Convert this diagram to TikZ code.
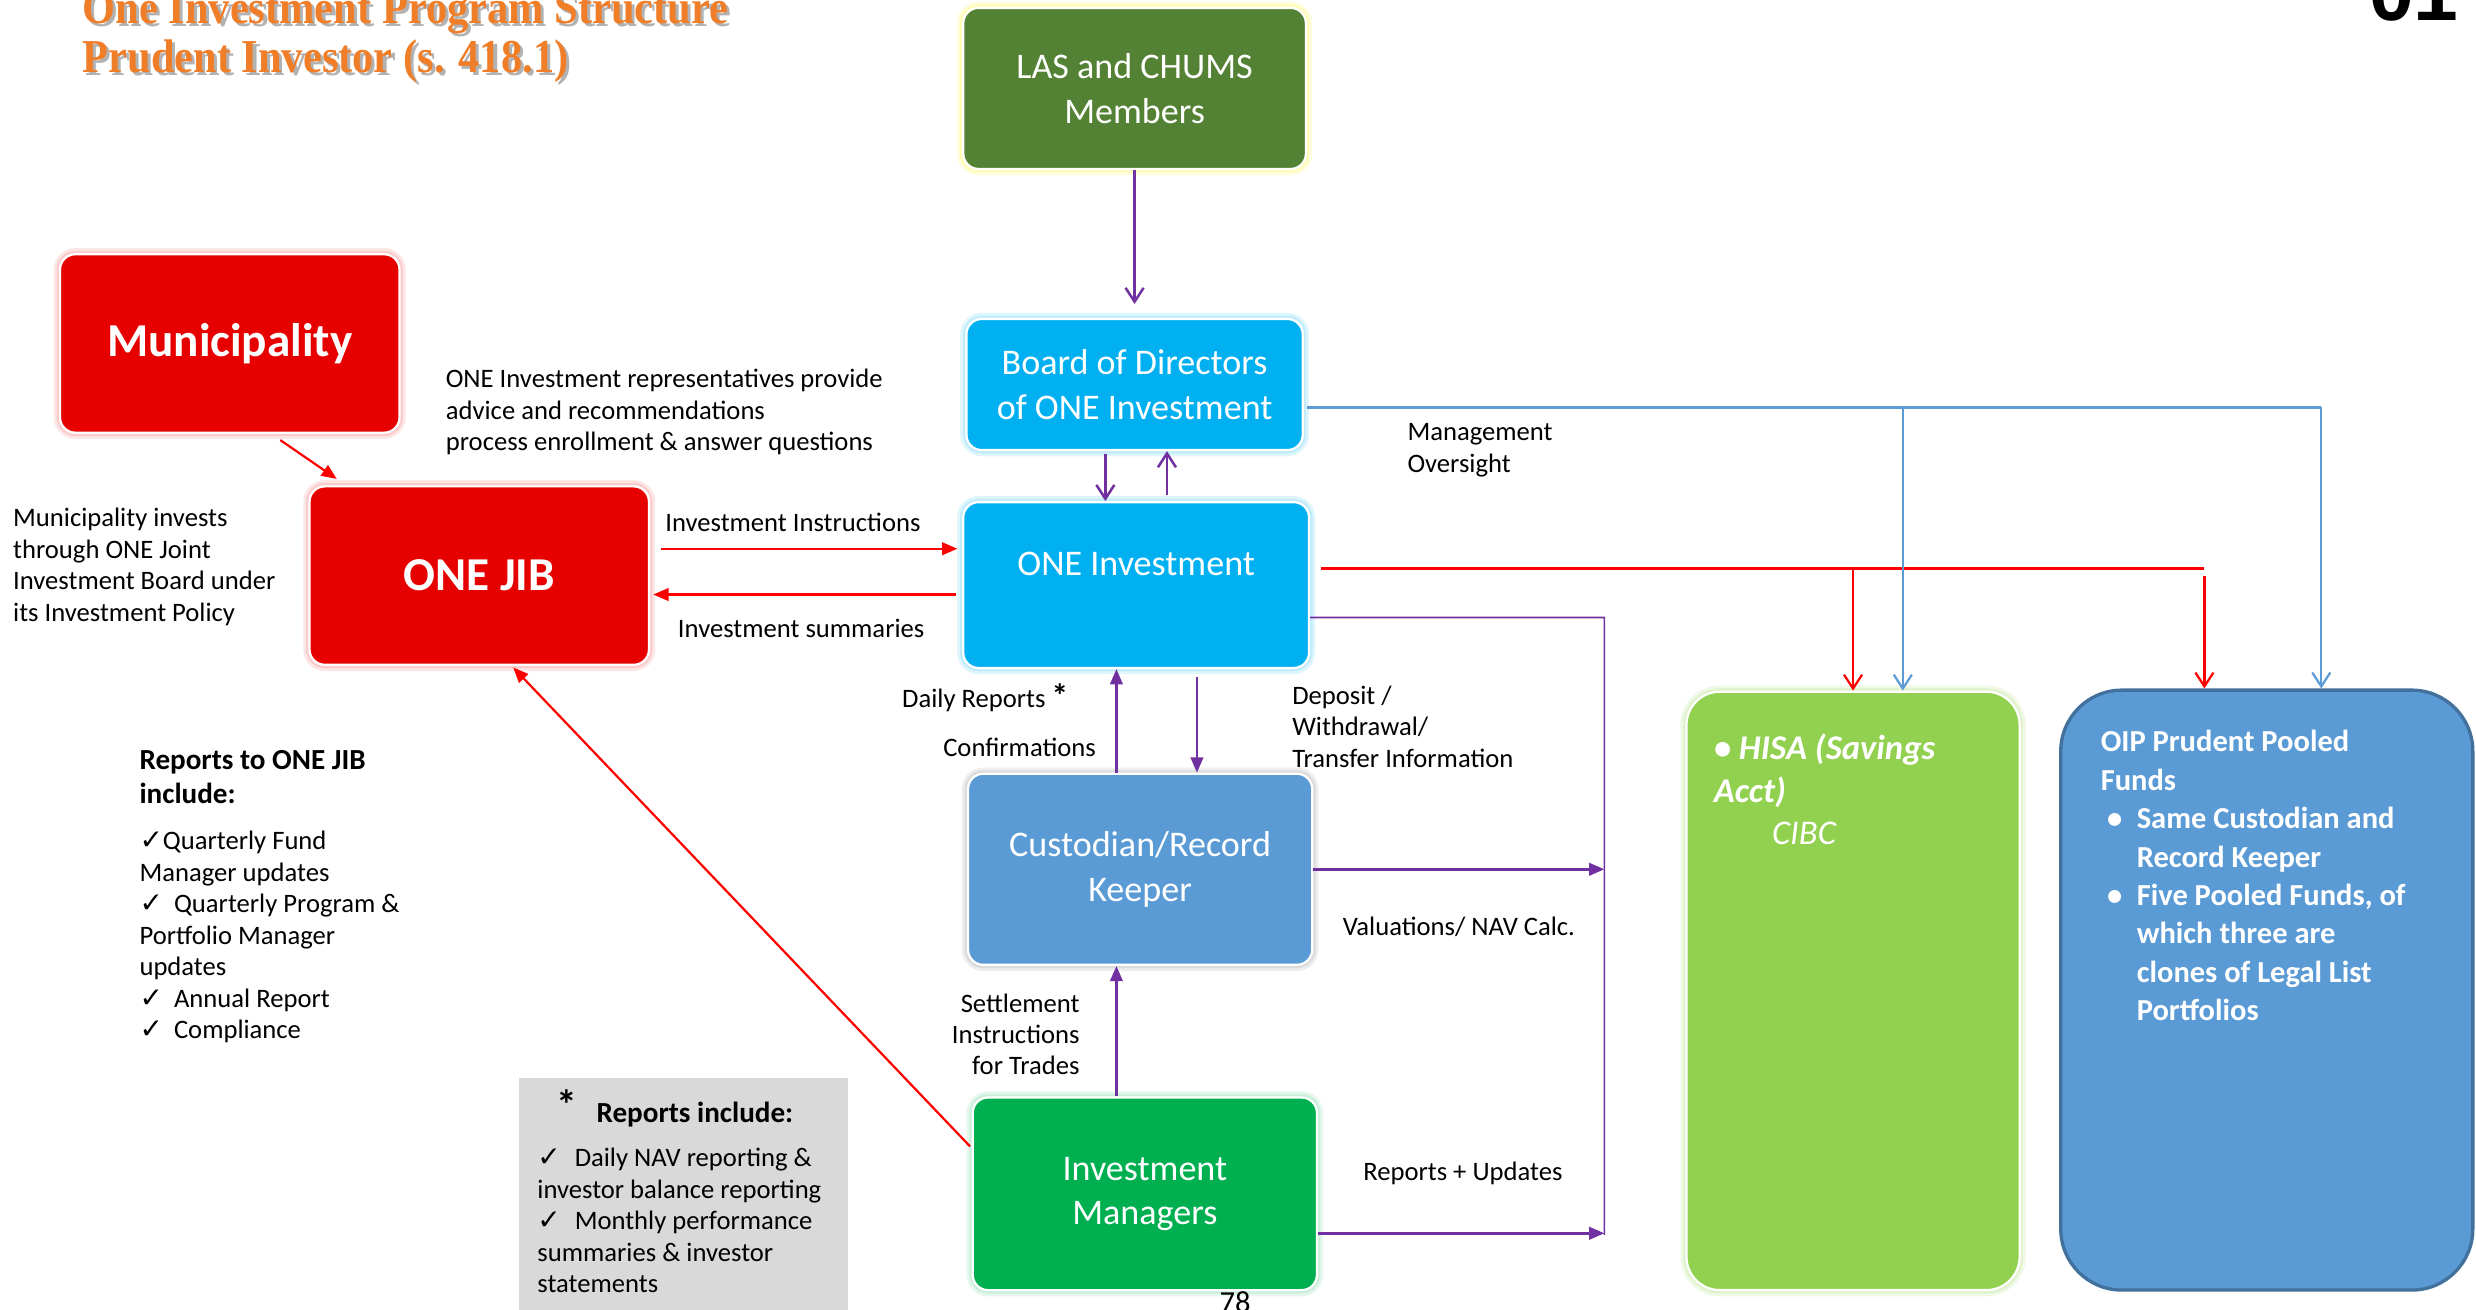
\documentclass[tikz,border=0pt]{standalone}
\usepackage{fontspec}
\usepackage{graphicx}
\setmainfont{Carlito}
\newfontfamily\ttlfont{Liberation Serif}
\newfontfamily\numfont{Liberation Sans}
\newfontfamily\chkfont{DejaVu Sans}
\usetikzlibrary{arrows.meta,calc}

\definecolor{lasgreen}{HTML}{548235}
\definecolor{onecyan}{HTML}{00B0F0}
\definecolor{custblue}{HTML}{5B9BD5}
\definecolor{mgrgreen}{HTML}{00B050}
\definecolor{jibred}{HTML}{E60000}
\definecolor{hisagreen}{HTML}{92D050}
\definecolor{oipedge}{HTML}{41719C}
\definecolor{linkpurple}{HTML}{7030A0}
\definecolor{linkred}{HTML}{FF0000}
\definecolor{linkblue}{HTML}{5B9BD5}
\definecolor{notegray}{HTML}{D9D9D9}
\definecolor{titleorange}{HTML}{F07D28}

\newcommand{\chk}{\scalebox{1.05}{\chkfont ✓}}

\tikzset{
  box/.style={rectangle, rounded corners=5.5pt, draw=white, line width=0.8pt, text=white, align=center, inner sep=0pt, font=\fontsize{13}{16}\selectfont},
  bigbox/.style={box, font=\fontsize{17}{20}\selectfont\bfseries},
  boxtxt/.style={text=white, inner sep=0pt, font=\fontsize{13}{16}\selectfont},
  glow/.style={preaction={draw=#1, line width=4.5pt, opacity=0.2}, preaction={draw=#1, line width=2.5pt, opacity=0.25}},
  txt/.style={inner sep=0pt, align=left, font=\fontsize{9.6}{11.34}\selectfont},
  boldtxt/.style={inner sep=0pt, align=left, font=\fontsize{10.5}{12.5}\selectfont\bfseries},
  hisatxt/.style={text=white, inner sep=0pt, align=left, font=\fontsize{12.5}{15.3}\selectfont\bfseries\itshape},
  oiptxt/.style={text=white, inner sep=0pt, align=left, font=\fontsize{11}{13.85}\selectfont\bfseries},
  ttl/.style={inner sep=0pt, text=titleorange, font=\ttlfont\bfseries\fontsize{17}{17}\selectfont},
  tri/.style={-{Triangle[length=5.5pt,width=4.5pt]}},
  vee/.style={-{Straight Barb[length=5pt,width=6.5pt]}},
  purp/.style={draw=linkpurple, line width=0.9pt},
  redl/.style={draw=linkred, line width=0.8pt},
  bluel/.style={draw=linkblue, line width=0.8pt},
}

\begin{document}
\begin{tikzpicture}[x=0.02cm, y=-0.02cm]
\useasboundingbox (0,0) rectangle (1568,829);

% title
\node[ttl, text=black, opacity=0.3, anchor=base west] (title1s) at (54,17) {\scalebox{0.9}[1]{One Investment Program Structure}};
\node[ttl, anchor=base west] (title1) at (52,15) {\scalebox{0.9}[1]{One Investment Program Structure}};
\node[ttl, text=black, opacity=0.3, anchor=base west] (title2s) at (54,48) {\scalebox{0.9}[1]{Prudent Investor (s. 418.1)}};
\node[ttl, anchor=base west] (title2) at (52,46) {\scalebox{0.9}[1]{Prudent Investor (s. 418.1)}};
\node[inner sep=0pt, font=\numfont\bfseries\fontsize{29}{29}\selectfont, anchor=base west] (pageno) at (1500,13) {01};

% boxes
\node[box, fill=lasgreen, glow=yellow!70, minimum width=4.34cm, minimum height=2.04cm] (las) at (718.5,56) {LAS and CHUMS\\Members};
\node[box, fill=onecyan, glow=onecyan!60, minimum width=4.26cm, minimum height=1.66cm] (board) at (718.5,243.5) {Board of Directors\\of ONE Investment};
\node[box, fill=onecyan, glow=onecyan!60, minimum width=4.38cm, minimum height=2.1cm] (oneinv) at (719.5,370.5) {};
\node[boxtxt] (oneinvlbl) at ($(oneinv)+(0,-13.5)$) {ONE Investment};
\node[box, fill=custblue, glow=gray!70, minimum width=4.36cm, minimum height=2.42cm] (cust) at (722,550.5) {Custodian/Record\\Keeper};
\node[box, fill=mgrgreen, glow=mgrgreen!50, minimum width=4.36cm, minimum height=2.44cm] (invmgr) at (725,756) {Investment\\Managers};
\node[bigbox, fill=jibred, glow=jibred!50, minimum width=4.3cm, minimum height=2.26cm] (muni) at (145.5,217.5) {Municipality};
\node[bigbox, fill=jibred, glow=jibred!50, minimum width=4.3cm, minimum height=2.26cm] (jib) at (303.5,364.5) {ONE JIB};
\node[box, rounded corners=12pt, fill=hisagreen, glow=hisagreen!70, minimum width=4.22cm, minimum height=7.58cm] (hisa) at (1173.5,627.5) {};
\node[box, rounded corners=22pt, fill=custblue, draw=oipedge, line width=1.2pt, minimum width=5.22cm, minimum height=7.6cm] (oip) at (1435.5,627) {};

\node[hisatxt, anchor=west] (hisalbl) at (1085,500) {\textbullet\ HISA (Savings\\Acct)\\\hspace*{21pt}{\mdseries CIBC}};
\node[oiptxt, anchor=west] (oiplbl) at (1330,554.5) {OIP Prudent Pooled\\Funds\\
  \hspace*{2.3pt}\makebox[10.7pt][l]{\textbullet}Same Custodian and\\\hspace*{13pt}Record Keeper\\
  \hspace*{2.3pt}\makebox[10.7pt][l]{\textbullet}Five Pooled Funds, of\\\hspace*{13pt}which three are\\
  \hspace*{13pt}clones of Legal List\\\hspace*{13pt}Portfolios};

% members, board and ONE Investment
\draw[purp, vee, shorten >=5pt] (las) -- (board);
\coordinate (bd) at ($(board.south)+(-18.5,2)$);
\coordinate (bu) at ($(oneinv.north)+(19.5,-4)$);
\draw[purp, vee] (bd) -- (bd |- oneinv.north);
\draw[purp, vee] (bu) -- (bu |- board.south);

% municipality side
\draw[redl, tri] ($(muni.south)+(32,4)$) -- ($(jib.north west)+(18,-4)$);
\draw[redl, tri] ($(jib.east)+(7,-17)$) -- ($(oneinv.west)+(-3,-23)$);
\draw[redl, tri] ($(oneinv.west)+(-4,6)$) -- ($(jib.east)+(2,12)$);
\draw[redl, tri] ($(invmgr.west)+(-1,-30)$) -- ($(jib.south)+(21.5,1)$);
\node[txt, anchor=west] (instr) at (421,331) {Investment Instructions};
\node[txt, anchor=west] (summ) at (429,398) {Investment summaries};
\node[txt, anchor=west] (advice) at (282,261) {ONE Investment representatives provide\\advice and recommendations\\process enrollment \& answer questions};
\node[txt, anchor=west] (invests) at (8,359) {Municipality invests\\through ONE Joint\\Investment Board under\\its Investment Policy};

% ONE Investment to the funds
\coordinate (rs) at ($(oneinv.east)+(7,-10.5)$);
\coordinate (roip) at ($(oip.north)+(-39.5,0)$);
\draw[redl] (rs) -- (roip |- rs);
\draw[redl, vee] (hisa.north |- rs) -- (hisa.north);
\draw[redl, vee] ($(roip |- rs)+(0,5)$) -- (roip);

% oversight
\coordinate (bs) at ($(board.east)+(2,14.5)$);
\coordinate (bhisa) at ($(hisa.north)+(31.5,0)$);
\coordinate (boip) at ($(oip.north)+(34.5,0)$);
\draw[bluel] (bs) -- (boip |- bs);
\draw[bluel, vee] (bhisa |- bs) -- (bhisa);
\draw[bluel, vee] (boip |- bs) -- (boip);
\node[txt, anchor=west] (oversight) at (891,285) {Management\\Oversight};

% reporting line
\coordinate (bustop) at (1016,391);
\coordinate (busbot) at (1016,782);
\draw[purp, line width=0.6pt] ($(oneinv.east)+(0,20.5)$) -- (bustop) -- (busbot);
\draw[purp, tri] (cust.east) -- (cust.east -| bustop);
\coordinate (im) at ($(invmgr.east)+(0,25)$);
\draw[purp, tri] (im) -- (im -| bustop);
\node[txt, anchor=west] (nav) at (850,587) {Valuations/ NAV Calc.};
\node[txt, anchor=west] (updates) at (863,743) {Reports + Updates};

% custodian links
\coordinate (dr) at ($(cust.north)+(-15,0)$);
\draw[purp, tri] (dr) -- (dr |- oneinv.south);
\coordinate (dw) at ($(oneinv.south)+(38.5,5)$);
\draw[purp, tri] (dw) -- (dw |- cust.north);
\coordinate (si) at ($(invmgr.north)+(-18,0)$);
\draw[purp, tri] (si) -- (si |- cust.south);
\node[txt, anchor=west] (daily) at (571,442) {Daily Reports {\bfseries\large*}};
\node[txt, anchor=west] (confirm) at (597,473) {Confirmations};
\node[txt, anchor=west] (deposit) at (818,460) {Deposit /\\Withdrawal/\\Transfer Information};
\node[txt, anchor=east, align=right] (settle) at (684,655) {Settlement\\Instructions\\for Trades};

% reports to ONE JIB
\node[boldtxt, anchor=west] (jibhead) at (88,492) {Reports to ONE JIB\\include:};
\node[txt, anchor=west] (jiblist) at (88,593.5) {\chk Quarterly Fund\\Manager updates\\\chk\hspace{4pt}Quarterly Program \&\\Portfolio Manager\\updates\\\chk\hspace{4pt}Annual Report\\\chk\hspace{4pt}Compliance};

% daily reports note
\node[fill=notegray, inner sep=0pt, minimum width=4.18cm, minimum height=3.2cm, anchor=north west] (notebg) at (328,682) {};
\node[boldtxt, anchor=west] (notehead) at (352,702) {\raisebox{1pt}{\fontsize{15}{15}\selectfont*}\hspace{7pt}Reports include:};
\node[txt, anchor=west] (notelist) at (340,773) {\chk\hspace{5pt}Daily NAV reporting \&\\investor balance reporting\\\chk\hspace{5pt}Monthly performance\\summaries \& investor\\statements};

\node[inner sep=0pt, font=\fontsize{11}{13}\selectfont, anchor=base west] (slideno) at (772,831) {78};
\end{tikzpicture}
\end{document}
